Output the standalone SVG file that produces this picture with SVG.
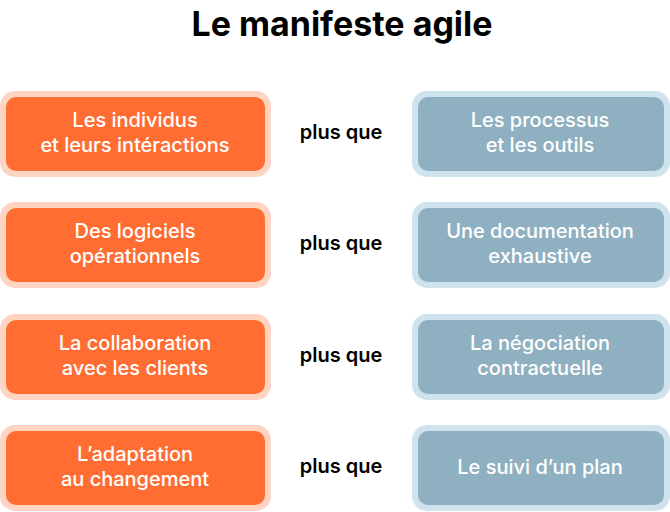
<svg xmlns="http://www.w3.org/2000/svg" width="670" height="512" viewBox="0 0 670 512">
<style>
.t{font-family:Inter,"Noto Sans",sans-serif;font-weight:700;font-size:34px;fill:#000;text-anchor:middle}
.lo{fill:#ffd4c3}.li{fill:#ff6d33}.ro{fill:#cfe3ee}.ri{fill:#8fb0c0}
.bt{font-family:Inter,"Noto Sans",sans-serif;font-weight:500;font-size:20px;fill:#fff;text-anchor:middle}
.pq{font-family:Inter,"Noto Sans",sans-serif;font-weight:600;font-size:20px;fill:#000;text-anchor:middle}
</style>
<rect width="670" height="512" fill="#fff"/>
<text class="t" x="342" y="36">Le manifeste agile</text>
<g id="connectors"></g>
<g id="l1"><rect class="lo" x="0" y="91" width="271" height="86" rx="15"/><rect class="li" x="6" y="97" width="259" height="74" rx="10"/><text class="bt" x="135" y="127">Les individus</text><text class="bt" x="135" y="152">et leurs intéractions</text></g>
<g id="p1"><text class="pq" x="341" y="139">plus que</text></g>
<g id="r1"><rect class="ro" x="412" y="91" width="258" height="86" rx="15"/><rect class="ri" x="418" y="97" width="246" height="74" rx="10"/><text class="bt" x="540" y="127">Les processus</text><text class="bt" x="540" y="152">et les outils</text></g>
<g id="l2"><rect class="lo" x="0" y="202" width="271" height="86" rx="15"/><rect class="li" x="6" y="208" width="259" height="74" rx="10"/><text class="bt" x="135" y="238">Des logiciels</text><text class="bt" x="135" y="263">opérationnels</text></g>
<g id="p2"><text class="pq" x="341" y="250">plus que</text></g>
<g id="r2"><rect class="ro" x="412" y="202" width="258" height="86" rx="15"/><rect class="ri" x="418" y="208" width="246" height="74" rx="10"/><text class="bt" x="540" y="238">Une documentation</text><text class="bt" x="540" y="263">exhaustive</text></g>
<g id="l3"><rect class="lo" x="0" y="314" width="271" height="86" rx="15"/><rect class="li" x="6" y="320" width="259" height="74" rx="10"/><text class="bt" x="135" y="350">La collaboration</text><text class="bt" x="135" y="375">avec les clients</text></g>
<g id="p3"><text class="pq" x="341" y="362">plus que</text></g>
<g id="r3"><rect class="ro" x="412" y="314" width="258" height="86" rx="15"/><rect class="ri" x="418" y="320" width="246" height="74" rx="10"/><text class="bt" x="540" y="350">La négociation</text><text class="bt" x="540" y="375">contractuelle</text></g>
<g id="l4"><rect class="lo" x="0" y="425" width="271" height="86" rx="15"/><rect class="li" x="6" y="431" width="259" height="74" rx="10"/><text class="bt" x="135" y="461">L’adaptation</text><text class="bt" x="135" y="486">au changement</text></g>
<g id="p4"><text class="pq" x="341" y="473">plus que</text></g>
<g id="r4"><rect class="ro" x="412" y="425" width="258" height="86" rx="15"/><rect class="ri" x="418" y="431" width="246" height="74" rx="10"/><text class="bt" x="540" y="474">Le suivi d’un plan</text></g>
</svg>
